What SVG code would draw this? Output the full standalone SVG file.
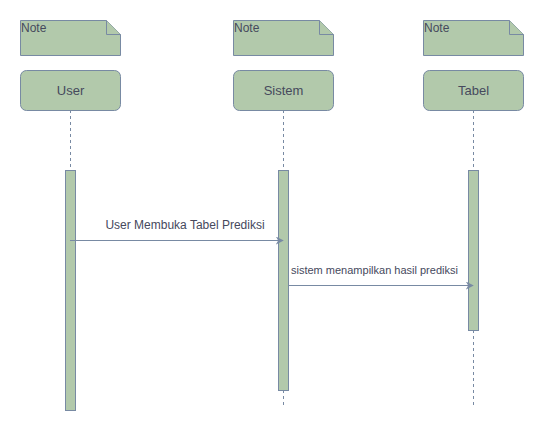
<svg xmlns="http://www.w3.org/2000/svg" width="544" height="431" viewBox="0 0 544 431">
<defs>
<style>
.shape{fill:#B2C9AB;stroke:#788AA3;stroke-width:1}
.life{stroke:#788AA3;stroke-width:1;stroke-dasharray:3 3;fill:none}
.msg{stroke:#788AA3;stroke-width:1;fill:none;marker-end:url(#arr)}
.t{font-family:"Liberation Sans",Arial,sans-serif;fill:#46495D}
.note{font-size:12px}
.head{font-size:13px;text-anchor:middle}
</style>
<marker id="arr" viewBox="0 0 10 10" refX="9" refY="5" markerWidth="8" markerHeight="8" markerUnits="userSpaceOnUse" orient="auto">
<path d="M0,0 L10,5 L0,10 L3,5 Z" fill="#788AA3"/>
</marker>
</defs>
<rect width="544" height="431" fill="#ffffff"/>
<g id="note-user">
<path class="shape" d="M20.5,20.5 H106.5 L120.5,34.5 V55.5 H20.5 Z"/>
<path class="shape" d="M106.5,20.5 V34.5 H120.5" fill="none"/>
<text class="t note" x="21" y="32">Note</text>
</g>
<g id="note-sistem">
<path class="shape" d="M233.5,20.5 H319.5 L333.5,34.5 V55.5 H233.5 Z"/>
<path class="shape" d="M319.5,20.5 V34.5 H333.5" fill="none"/>
<text class="t note" x="234" y="32">Note</text>
</g>
<g id="note-tabel">
<path class="shape" d="M423.5,20.5 H509.5 L523.5,34.5 V55.5 H423.5 Z"/>
<path class="shape" d="M509.5,20.5 V34.5 H523.5" fill="none"/>
<text class="t note" x="424" y="32">Note</text>
</g>
<g id="connectors">
<line class="life" x1="70.5" y1="110" x2="70.5" y2="170"/>
<line class="life" x1="283.5" y1="110" x2="283.5" y2="170"/>
<line class="life" x1="283.5" y1="390" x2="283.5" y2="408"/>
<line class="life" x1="473.5" y1="110" x2="473.5" y2="170"/>
<line class="life" x1="473.5" y1="330" x2="473.5" y2="408"/>
</g>
<g id="user">
<rect class="shape" x="20.5" y="70.5" width="100" height="40" rx="6"/>
<text class="t head" x="70.5" y="95">User</text>
<rect class="shape" x="65.5" y="170.5" width="10" height="240"/>
</g>
<g id="sistem">
<rect class="shape" x="233.5" y="70.5" width="100" height="40" rx="6"/>
<text class="t head" x="283.5" y="95">Sistem</text>
<rect class="shape" x="278.5" y="170.5" width="10" height="220"/>
</g>
<g id="tabel">
<rect class="shape" x="423.5" y="70.5" width="100" height="40" rx="6"/>
<text class="t head" x="473.5" y="95">Tabel</text>
<rect class="shape" x="468.5" y="170.5" width="10" height="160"/>
</g>
<g id="messages">
<line class="msg" x1="70" y1="240.5" x2="283" y2="240.5"/>
<text class="t" x="185" y="229" font-size="12" text-anchor="middle">User Membuka Tabel Prediksi</text>
<line class="msg" x1="289" y1="285.5" x2="473" y2="285.5"/>
<text class="t" x="291" y="274" font-size="11">sistem menampilkan hasil prediksi</text>
</g>
</svg>
